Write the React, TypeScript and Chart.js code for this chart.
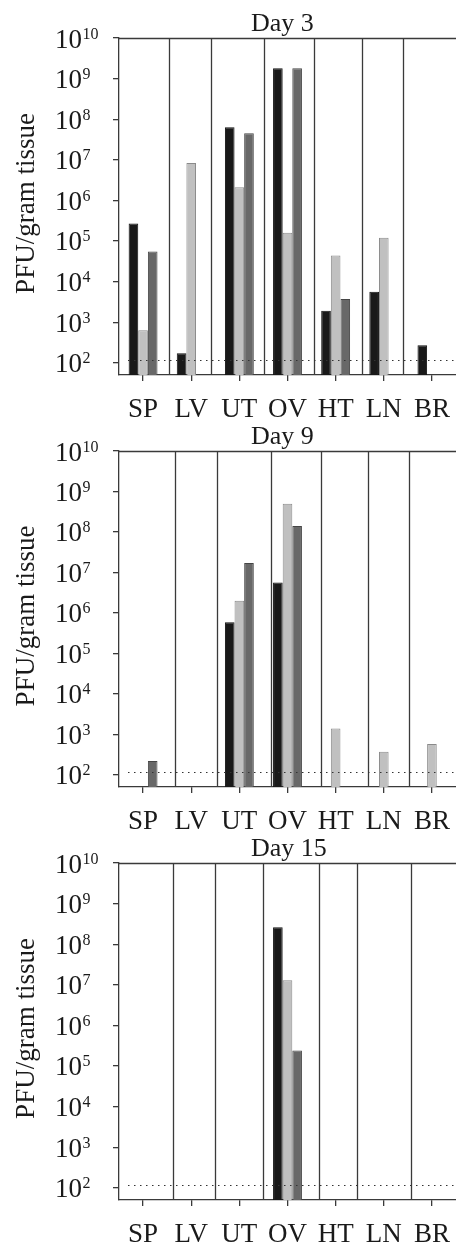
import React, { useEffect, useRef } from "react";
import { Chart, registerables } from "chart.js";

Chart.register(...registerables);

// ---------- data ----------
const categories = ["SP", "LV", "UT", "OV", "HT", "LN", "BR"];
const tickExponents = [2, 3, 4, 5, 6, 7, 8, 9, 10];
const yAxisTitle = "PFU/gram tissue";
const detectionLimit = 120;

const day3Black = [2.7e5, 172, 6.3e7, 1.8e9, 1.9e3, 5.6e3, 270];
const day3Light = [630, 8.3e6, 2.1e6, 1.6e5, 4.4e4, 1.2e5, null];
const day3Dark = [5.5e4, null, 4.5e7, 1.8e9, 3.7e3, null, null];

const day9Black = [null, null, 5.9e5, 5.6e6, null, null, null];
const day9Light = [null, null, 2.0e6, 5.0e8, 1.4e3, 370, 580];
const day9Dark = [220, null, 1.7e7, 1.4e8, null, null, null];

const day15Black = [null, null, null, 2.6e8, null, null, null];
const day15Light = [null, null, null, 1.3e7, null, null, null];
const day15Dark = [null, null, null, 2.4e5, null, null, null];

// divider positions, in category-index units
const day3Dividers = [0.54, 1.41, 2.51, 3.55, 4.55, 5.4];
const day9Dividers = [0.66, 1.54, 2.66, 3.69, 4.67, 5.52];
const day15Dividers = [0.62, 1.49, 2.49, 3.65, 4.44, 5.56];

// ---------- styles ----------
const FONT = "'Liberation Serif', 'Times New Roman', Times, serif";
const INK = "#1a1a1a";
const LINE = "#3a3a3a";

type PanelDef = {
  title: string;
  black: (number | null)[];
  light: (number | null)[];
  dark: (number | null)[];
  dividers: number[];
  top: number;
  height: number;
  chartTop: number;
  chartBottom: number;
};

const panels: PanelDef[] = [
  { title: "Day 3", black: day3Black, light: day3Light, dark: day3Dark, dividers: day3Dividers, top: 0, height: 430, chartTop: 38, chartBottom: 375 },
  { title: "Day 9", black: day9Black, light: day9Light, dark: day9Dark, dividers: day9Dividers, top: 410, height: 430, chartTop: 41, chartBottom: 377 },
  { title: "Day 15", black: day15Black, light: day15Light, dark: day15Dark, dividers: day15Dividers, top: 820, height: 428, chartTop: 43, chartBottom: 380 },
];

function PanelChart({ panel }: { panel: PanelDef }) {
  const ref = useRef<HTMLCanvasElement>(null);

  useEffect(() => {
    const canvas = ref.current!;
    const overlay = {
      id: "overlay",
      beforeDatasetsDraw(chart: any) {
        const { ctx, chartArea } = chart;
        const xs = chart.scales.x;
        ctx.save();
        ctx.strokeStyle = LINE;
        ctx.lineWidth = 1.3;
        panel.dividers.forEach((d) => {
          const x = Math.round(xs.getPixelForValue(d)) + 0.5;
          ctx.beginPath();
          ctx.moveTo(x, chartArea.top);
          ctx.lineTo(x, chartArea.bottom);
          ctx.stroke();
        });
        ctx.restore();
      },
      afterDatasetsDraw(chart: any) {
        const { ctx, chartArea } = chart;
        const ys = chart.scales.y;
        const y = Math.round(ys.getPixelForValue(detectionLimit)) + 0.5;
        ctx.save();
        ctx.strokeStyle = "#333";
        ctx.lineWidth = 1;
        ctx.setLineDash([1.5, 4.5]);
        ctx.beginPath();
        ctx.moveTo(chartArea.left + 9, y);
        ctx.lineTo(chartArea.right, y);
        ctx.stroke();
        ctx.restore();
      },
      afterDraw(chart: any) {
        const { ctx, chartArea } = chart;
        const ys = chart.scales.y;
        ctx.save();
        // top border
        ctx.strokeStyle = LINE;
        ctx.lineWidth = 1.3;
        ctx.beginPath();
        ctx.moveTo(chartArea.left, chartArea.top + 0.5);
        ctx.lineTo(chartArea.right, chartArea.top + 0.5);
        ctx.stroke();

        ctx.fillStyle = INK;
        // y tick labels with superscript exponents
        tickExponents.forEach((e) => {
          const y = ys.getPixelForValue(Math.pow(10, e));
          ctx.font = `27px ${FONT}`;
          ctx.textAlign = "left";
          ctx.textBaseline = "alphabetic";
          const base = "10";
          ctx.fillText(base, 55, y + 9.5);
          const w = ctx.measureText(base).width;
          ctx.font = `16px ${FONT}`;
          ctx.fillText(String(e), 55 + w + 0.5, y + 0.5);
        });

        // y axis title
        ctx.font = `27px ${FONT}`;
        ctx.textAlign = "center";
        ctx.textBaseline = "middle";
        ctx.translate(27, (chartArea.top + chartArea.bottom) / 2 - 3);
        ctx.rotate(-Math.PI / 2);
        ctx.fillText(yAxisTitle, 0, 0);
        ctx.setTransform(1, 0, 0, 1, 0, 0);

        // panel title
        ctx.font = `26px ${FONT}`;
        ctx.textAlign = "left";
        ctx.textBaseline = "alphabetic";
        ctx.fillText(panel.title, 251, chartArea.top - 7);
        ctx.restore();
      },
    };

    const chart = new Chart(canvas, {
      type: "bar",
      data: {
        labels: categories,
        datasets: [
          { label: "black", data: panel.black, backgroundColor: "#191919", borderColor: "#111", borderWidth: 1 },
          { label: "light", data: panel.light, backgroundColor: "#c0c0c0", borderColor: "#8a8a8a", borderWidth: 1 },
          { label: "dark", data: panel.dark, backgroundColor: "#686868", borderColor: "#454545", borderWidth: 1 },
        ],
      },
      options: {
        responsive: false,
        animation: false,
        events: [],
        layout: { padding: { top: panel.chartTop, left: 0, right: 0, bottom: 0 } },
        datasets: { bar: { categoryPercentage: 0.6, barPercentage: 1.0 } },
        plugins: {
          legend: { display: false },
          tooltip: { enabled: false },
          title: { display: false },
        },
        scales: {
          x: {
            type: "category",
            offset: true,
            grid: { display: true, drawOnChartArea: false, drawTicks: true, tickLength: 6, offset: false, color: LINE, lineWidth: 1.3 },
            border: { display: true, color: LINE, width: 1.3 },
            ticks: { font: { family: FONT, size: 27 }, color: INK, padding: 13, maxRotation: 0, autoSkip: false },
            afterFit: (s: any) => {
              s.height = panel.height - panel.chartBottom;
              s.paddingLeft = 0;
              s.paddingRight = 0;
            },
          },
          y: {
            type: "logarithmic",
            min: 50,
            max: 1e10,
            afterBuildTicks: (s: any) => {
              s.ticks = tickExponents.map((e) => ({ value: Math.pow(10, e) }));
            },
            ticks: { display: false },
            grid: { display: true, drawOnChartArea: false, drawTicks: true, tickLength: 6, color: LINE, lineWidth: 1.3 },
            border: { display: true, color: LINE, width: 1.3 },
            afterFit: (s: any) => {
              s.width = 119;
              s.paddingTop = 0;
              s.paddingBottom = 0;
            },
          },
        },
      } as any,
      plugins: [overlay],
    });
    return () => chart.destroy();
  }, [panel]);

  return (
    <canvas
      ref={ref}
      width={456}
      height={panel.height}
      style={{ position: "absolute", left: 0, top: panel.top, width: 456, height: panel.height }}
    />
  );
}

export default function App() {
  return (
    <div style={{ position: "absolute", left: 0, top: 0, width: 456, height: 1248, background: "#fff", overflow: "hidden" }}>
      {panels.map((p) => (
        <PanelChart key={p.title} panel={p} />
      ))}
    </div>
  );
}
